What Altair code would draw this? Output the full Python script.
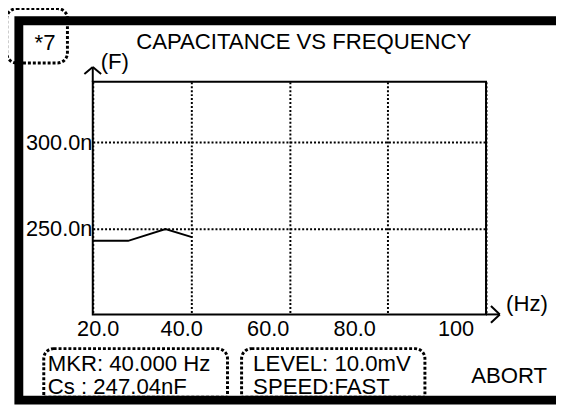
import altair as alt
import pandas as pd

# ---- data ----
freq_hz = [20.0, 27.2, 34.8, 40.0]
cap_nf = [242.7, 242.7, 249.5, 245.0]

x_ticks = [20, 40, 60, 80, 100]
x_tick_labels = ["20.0", "40.0", "60.0", "80.0", "100"]
y_ticks = [250, 300]
y_tick_labels = ["250.0n", "300.0n"]

title_text = ["CAPACITANCE VS FREQUENCY"]
y_unit = ["(F)"]
x_unit = ["(Hz)"]
page_tag = ["*7"]
marker_lines = ["MKR: 40.000 Hz", "Cs : 247.04nF"]
setting_lines = ["LEVEL: 10.0mV", "SPEED:FAST"]
status_text = ["ABORT"]

FONT = "Liberation Sans"
FS = 22
TFS = 22.5

df = pd.DataFrame({"freq": freq_hz, "cap": cap_nf})

x_label_map = "{" + ",".join(f"'{v}':'{l}'" for v, l in zip(x_ticks, x_tick_labels)) + "}"
y_label_map = "{" + ",".join(f"'{v}':'{l}'" for v, l in zip(y_ticks, y_tick_labels)) + "}"

x_offsets = {20: 5, 40: -10, 60: -22, 80: -34, 100: -31}

line = alt.Chart(df).mark_line(color="black", strokeWidth=2).encode(
    x=alt.X(
        "freq:Q",
        scale=alt.Scale(domain=[20, 100], nice=False, zero=False),
        axis=alt.Axis(
            values=x_ticks,
            title=None,
            domain=False,
            ticks=False,
            grid=True,
            gridColor="black",
            gridDash=[2, 2],
            gridWidth=2,
            labelExpr=f"{x_label_map}[''+datum.value]",
            labelFont=FONT,
            labelFontSize=FS,
            labelColor="black",
            labelPadding=4,
            labelFlush=False,
            labelOverlap=False,
            labelOffset={
                "condition": [
                    {"test": f"datum.value == {v}", "value": o}
                    for v, o in x_offsets.items()
                ],
                "value": 0,
            },
        ),
    ),
    y=alt.Y(
        "cap:Q",
        scale=alt.Scale(domain=[200, 335], nice=False, zero=False),
        axis=alt.Axis(
            values=y_ticks,
            title=None,
            domain=False,
            ticks=False,
            grid=True,
            gridColor="black",
            gridDash=[2, 2],
            gridWidth=2,
            labelExpr=f"{y_label_map}[''+datum.value]",
            labelFont=FONT,
            labelFontSize=FS,
            labelColor="black",
            labelPadding=1,
            labelOverlap=False,
        ),
    ),
)


def txt(s, x, y, align="left"):
    return alt.Chart(pd.DataFrame({"t": s})).mark_text(
        font=FONT, fontSize=TFS, color="black", align=align, baseline="alphabetic"
    ).encode(text="t:N", x=alt.value(x), y=alt.value(y))


def seg(x, y, x2, y2, w=2):
    return alt.Chart(pd.DataFrame({"k": [0]})).mark_rule(
        color="black", strokeWidth=w
    ).encode(x=alt.value(x), y=alt.value(y), x2=alt.value(x2), y2=alt.value(y2))


def box(x, y, x2, y2, w, dash=None, radius=0, open_bottom=False):
    kw = dict(filled=False, stroke="black", strokeWidth=w, cornerRadius=radius)
    if open_bottom:
        kw["cornerRadiusBottomLeft"] = 0
        kw["cornerRadiusBottomRight"] = 0
    if dash:
        kw["strokeDash"] = dash
    return alt.Chart(pd.DataFrame({"k": [0]})).mark_rect(**kw).encode(
        x=alt.value(x), y=alt.value(y), x2=alt.value(x2), y2=alt.value(y2)
    )


layers = [
    line,
    # y axis arrow
    seg(0, -15, 0, 0),
    seg(0, -15, -8.5, -8),
    seg(0, -15, 8.5, -8),
    # x axis arrow
    seg(399, 236, 413, 236),
    seg(413, 236, 404, 227.5),
    seg(413, 236, 404, 244.5),
    txt(title_text, 44, -33.3),
    txt(y_unit, 8, -13.3),
    txt(x_unit, 419.3, 232.7),
    txt(page_tag, -59, -32),
    txt([marker_lines[0]], -45.7, 293.3),
    txt([marker_lines[1]], -45.7, 316.7),
    txt([setting_lines[0]], 162.7, 293.3),
    txt([setting_lines[1]], 162.7, 316.7),
    txt(status_text, 461, 305.7, align="right"),
    box(-87.3, -74.3, -25.7, -19.2, 3, dash=[3, 2], radius=10),
    box(-49.7, 270.7, 136.7, 320, 3, dash=[3, 2], radius=10, open_bottom=True),
    box(151, 270.7, 337, 320, 3, dash=[3, 2], radius=10, open_bottom=True),
    box(-75, -62, 478, 323, 9),
]

chart = alt.layer(*layers).properties(
    width=399,
    height=236,
    autosize="none",
    padding={"left": 86, "top": 72, "right": 71, "bottom": 90},
    background="white",
).configure_view(stroke="black", strokeWidth=2)

chart.save("out.html", embed_options={"renderer": "svg", "actions": False})
